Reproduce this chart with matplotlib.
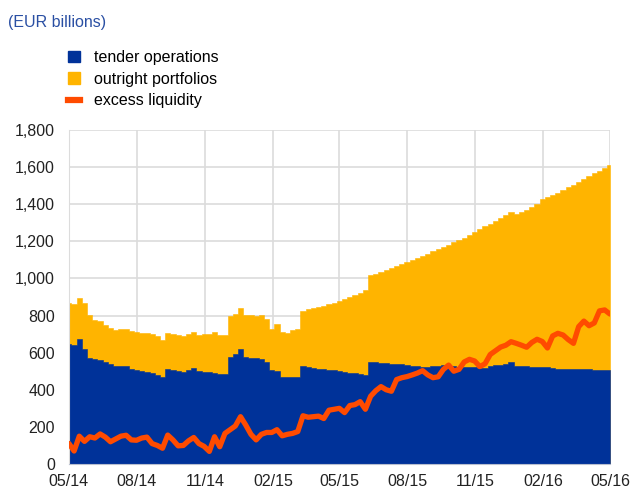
import numpy as np
import pandas as pd
import matplotlib
matplotlib.use("Agg")
import matplotlib.pyplot as plt
import matplotlib.dates as mdates
from matplotlib.patches import Patch
from matplotlib.lines import Line2D

plt.rcParams['font.family'] = ['Liberation Sans', 'DejaVu Sans']

# weekly observations, May 2014 - May 2016 (EUR billions)
dates = pd.date_range("2014-05-01", "2016-05-01", periods=105)

tender = [
    647, 640, 672, 620, 570, 564, 560, 548, 540, 528,
    530, 528, 512, 507, 500, 497, 490, 480, 470, 514,
    508, 500, 497, 505, 518, 500, 497, 497, 490, 485,
    483, 578, 595, 620, 578, 569, 569, 565, 550, 505,
    500, 470, 467, 467, 470, 530, 520, 516, 512, 510,
    507, 505, 500, 495, 493, 490, 485, 480, 550, 548,
    545, 542, 540, 538, 537, 535, 530, 527, 525, 525,
    527, 530, 533, 530, 528, 525, 524, 522, 522, 518,
    516, 528, 532, 535, 540, 550, 530, 528, 527, 525,
    522, 522, 520, 518, 514, 512, 512, 513, 512, 510,
    510, 509, 508, 507, 506,
]

total = [
    868, 860, 894, 870, 805, 778, 770, 750, 735, 722,
    730, 730, 715, 712, 708, 705, 698, 690, 668, 706,
    703, 695, 690, 698, 712, 697, 700, 700, 712, 697,
    695, 795, 810, 840, 805, 803, 800, 803, 780, 727,
    755, 710, 708, 720, 730, 822, 835, 838, 845, 852,
    860, 870, 877, 890, 900, 910, 922, 935, 1018, 1025,
    1035, 1045, 1055, 1065, 1078, 1090, 1100, 1110, 1120, 1130,
    1145, 1158, 1170, 1182, 1195, 1208, 1220, 1232, 1250, 1265,
    1280, 1295, 1310, 1325, 1340, 1360, 1345, 1358, 1370, 1385,
    1400, 1425, 1438, 1450, 1462, 1475, 1490, 1505, 1520, 1535,
    1550, 1565, 1580, 1595, 1611,
]

excess = [
    111, 70, 150, 122, 147, 140, 162, 145, 120, 135,
    150, 155, 130, 128, 140, 145, 110, 100, 85, 156,
    130, 98, 100, 125, 143, 110, 95, 68, 147, 93,
    165, 185, 205, 255, 210, 160, 130, 160, 170, 170,
    185, 152, 160, 165, 175, 260, 252, 255, 258, 245,
    290, 295, 300, 277, 315, 320, 336, 295, 365, 395,
    417, 400, 392, 455, 465, 471, 480, 490, 503, 480,
    465, 470, 510, 533, 500, 510, 550, 564, 555, 525,
    540, 590, 610, 630, 640, 659, 650, 640, 629, 655,
    672, 660, 625, 690, 704, 695, 670, 650, 740, 770,
    745, 760, 825, 830, 808,
]

labels = ["tender operations", "outright portfolios", "excess liquidity"]
tick_dates = pd.date_range("2014-05-01", "2016-05-01", freq="3MS")

BLUE = "#003299"
YELLOW = "#FFB400"
ORANGE = "#FF4B00"
FS = 11.5

fig = plt.figure(figsize=(6.32, 4.90), dpi=100)
ax = fig.add_axes([0.109, 0.053, 0.856, 0.682])

# outright portfolios sit on top of tender operations
ax.fill_between(dates, 0, total, step="mid", color=YELLOW, lw=0.4,
                edgecolor=YELLOW, zorder=2)
ax.fill_between(dates, 0, tender, step="mid", color=BLUE, lw=0.4,
                edgecolor=BLUE, zorder=2)
ax.plot(dates, excess, color=ORANGE, lw=3.8, solid_capstyle="round",
        solid_joinstyle="round", zorder=3)

ax.set_xlim(dates[0], dates[-1])
ax.set_ylim(0, 1800)
ax.set_yticks(np.arange(0, 1801, 200))
ax.yaxis.set_major_formatter(matplotlib.ticker.FuncFormatter(lambda v, p: f"{int(v):,}"))
ax.set_xticks(tick_dates)
ax.xaxis.set_major_formatter(mdates.DateFormatter("%m/%y"))

ax.grid(True, color="#dcdcdc", lw=1.2, zorder=0)
ax.set_axisbelow(True)
for s in ["top", "right"]:
    ax.spines[s].set_visible(False)
ax.spines["left"].set_color("#dcdcdc")
ax.spines["bottom"].set_color("#b8bfd0")
ax.tick_params(length=0, labelsize=FS, colors="#222222")
ax.tick_params(axis="y", pad=10)
ax.tick_params(axis="x", pad=7)

fig.text(0.013, 0.944, "(EUR billions)", color="#2a4fa3", fontsize=FS)

handles = [Patch(color=BLUE), Patch(color=YELLOW),
           Line2D([0], [0], color=ORANGE, lw=4.5)]
fig.legend(handles, labels, loc="upper left", bbox_to_anchor=(0.107, 0.898),
           frameon=False, fontsize=FS, handlelength=0.75, handleheight=0.75,
           handletextpad=0.9, labelspacing=0.42, borderaxespad=0, borderpad=0)

fig.savefig("out.png", dpi=100)
